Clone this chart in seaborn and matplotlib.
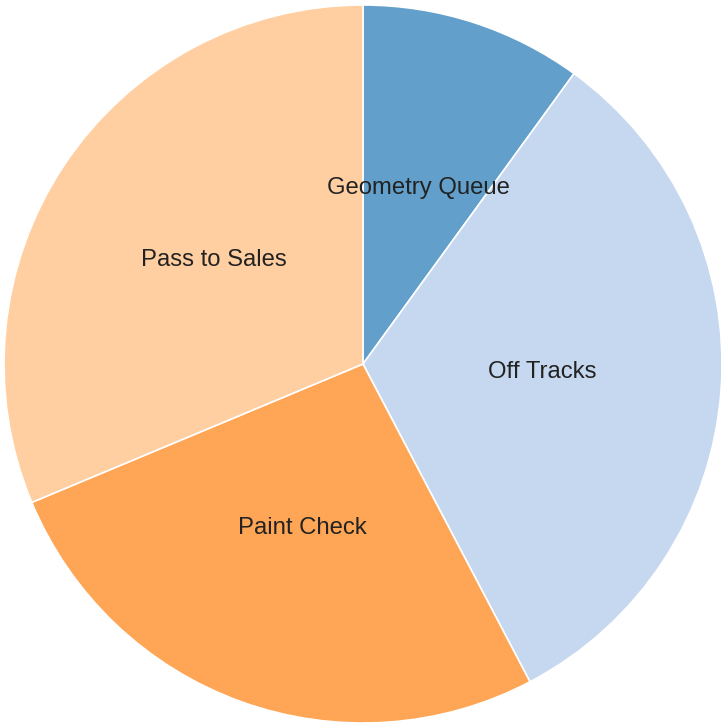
import matplotlib
matplotlib.use("Agg")
import matplotlib.pyplot as plt
import seaborn as sns

categories = ["Geometry Queue", "Off Tracks", "Paint Check", "Pass to Sales"]
values = [10.0, 32.3, 26.4, 31.3]
base_colors = ["#1f77b4", "#aec7e8", "#ff7f0e", "#ffbb78"]

sns.set_theme(style="white")
plt.rcParams['font.family'] = ['Liberation Sans', 'DejaVu Sans']

fig = plt.figure(figsize=(7.24, 7.25), dpi=100)
ax = fig.add_axes([0, 0, 1, 1])
ax.axis("off")

# blend colors with 0.7 opacity on white
def blend(c, a=0.7):
    r, g, b = matplotlib.colors.to_rgb(c)
    return (a * r + (1 - a), a * g + (1 - a), a * b + (1 - a))

colors = [blend(c) for c in base_colors]

wedges, texts = ax.pie(values, labels=categories, colors=colors, startangle=90,
                       counterclock=False, radius=1.0, labeldistance=0.5,
                       wedgeprops=dict(edgecolor="white", linewidth=1.2),
                       textprops=dict(fontsize=17.2, color="#222222"))
R = 359.0
for t in texts:
    t.set_ha("center")
    t.set_va("center")
    x, y = t.get_position()
    t.set_position((x, y + 5.0 / R))

cx, cy = 363.0, 364.0
ax.set_xlim(-cx / R, (724 - cx) / R)
ax.set_ylim(-(725 - cy) / R, cy / R)
ax.set_aspect("auto")

fig.savefig("out.png", dpi=100, facecolor="white")
